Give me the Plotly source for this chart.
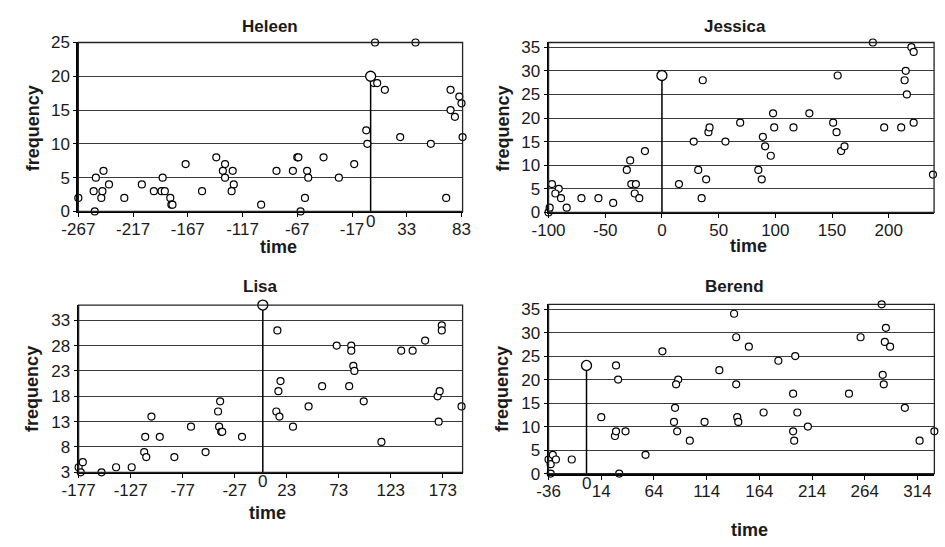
import plotly.graph_objects as go

# ---------------- data ----------------
heleen_time = [-267, -253, -251, -252, -246, -245, -244, -239, -225, -209, -198, -190, -191, -188,
               -183, -182, -181, -169, -154, -141, -133, -135, -133, -126, -125, -127,
               -100, -86, -71, -67, -66, -58, -57, -60, -64, -43, -29, -15, -4, -3,
               4, 3, 6, 13, 27, 41, 55, 69, 73, 73, 77, 81, 83, 84]
heleen_freq = [2, 3, 5, 0, 2, 3, 6, 4, 2, 4, 3, 5, 3, 3,
               2, 1, 1, 7, 3, 8, 7, 6, 5, 6, 4, 3,
               1, 6, 6, 8, 8, 6, 5, 2, 0, 8, 5, 7, 12, 10,
               25, 19, 19, 18, 11, 25, 10, 2, 18, 15, 14, 17, 16, 11]
heleen_onset = [0, 20]
heleen_xticks = [-267, -217, -167, -117, -67, -17, 33, 83]
heleen_yticks = [0, 5, 10, 15, 20, 25]

jessica_time = [-100, -99, -97, -91, -94, -89, -84, -71, -56, -43, -31, -28, -27, -23, -24, -20, -15,
                15, 28, 32, 36, 35, 39, 41, 42, 56, 69, 85, 88, 89, 91, 96, 98, 99, 116, 130,
                151, 154, 155, 158, 161, 186, 196, 211, 215, 214, 216, 220, 222, 222, 239]
jessica_freq = [0, 1, 6, 5, 4, 3, 1, 3, 3, 2, 9, 11, 6, 6, 4, 3, 13,
                6, 15, 9, 28, 3, 7, 17, 18, 15, 19, 9, 7, 16, 14, 12, 21, 18, 18, 21,
                19, 17, 29, 13, 14, 36, 18, 18, 30, 28, 25, 35, 34, 19, 8]
jessica_onset = [0, 29]
jessica_xticks = [-100, -50, 0, 50, 100, 150, 200]
jessica_yticks = [0, 5, 10, 15, 20, 25, 30, 35]

lisa_time = [-177, -175, -173, -155, -141, -126, -114, -112, -113, -107, -99, -85, -69, -55,
             -43, -41, -42, -40, -39, -20,
             14, 13, 16, 17, 15, 29, 44, 57, 71, 85, 85, 87, 88, 83, 97, 114, 133, 144, 156,
             172, 172, 168, 170, 169, 191]
lisa_freq = [4, 3, 5, 3, 4, 4, 7, 6, 10, 14, 10, 6, 12, 7,
             15, 17, 12, 11, 11, 10,
             31, 15, 14, 21, 19, 12, 16, 20, 28, 28, 27, 24, 23, 20, 17, 9, 27, 27, 29,
             32, 31, 18, 19, 13, 16]
lisa_onset = [0, 36]
lisa_xticks = [-177, -127, -77, -27, 23, 73, 123, 173]
lisa_yticks = [3, 8, 13, 18, 23, 28, 33]

berend_time = [-36, -32, -34, -34, -29, -14, 14, 28, 30, 27, 28, 37, 31, 56, 72, 87, 85, 84, 83,
               86, 98, 112, 140, 142, 142, 154, 126, 143, 144, 168, 182, 198, 196, 200, 196,
               197, 210, 249, 260, 280, 284, 283, 288, 281, 282, 302, 316, 330]
berend_freq = [3, 4, 2, 0, 3, 3, 12, 23, 20, 8, 9, 9, 0, 4, 26, 20, 19, 14, 11,
               9, 7, 11, 34, 29, 19, 27, 22, 12, 11, 13, 24, 25, 17, 13, 9,
               7, 10, 17, 29, 36, 31, 28, 27, 21, 19, 14, 7, 9]
berend_onset = [0, 23]
berend_xticks = [-36, 14, 64, 114, 164, 214, 264, 314]
berend_yticks = [0, 5, 10, 15, 20, 25, 30, 35]

W, H = 945, 547
FONT = "Arial, Liberation Sans, sans-serif"
TXT = "#1a1a1a"

panels = [
    dict(name="Heleen", t=heleen_time, f=heleen_freq, onset=heleen_onset, xt=heleen_xticks,
         yt=heleen_yticks, xr=[-267, 84], yr=[0, 25], px=(63, 457.7), py=(34.7, 209.7),
         zero_label=True, zlab_y=220, title=(260, 18), xlab=(269, 247), ylab=(16, 124)),
    dict(name="Jessica", t=jessica_time, f=jessica_freq, onset=jessica_onset, xt=jessica_xticks,
         yt=jessica_yticks, xr=[-100, 240], yr=[0, 36], px=(546, 942), py=(34.7, 210.7),
         zero_label=False, zlab_y=None, title=(737.5, 18), xlab=(751, 246), ylab=(499, 124)),
    dict(name="Lisa", t=lisa_time, f=lisa_freq, onset=lisa_onset, xt=lisa_xticks,
         yt=lisa_yticks, xr=[-177, 192], yr=[3, 36], px=(63.3, 457.7), py=(306.7, 480),
         zero_label=True, zlab_y=490, title=(250, 288), xlab=(257, 522), ylab=(16, 394)),
    dict(name="Berend", t=berend_time, f=berend_freq, onset=berend_onset, xt=berend_xticks,
         yt=berend_yticks, xr=[-36, 330], yr=[0, 36], px=(546, 942.3), py=(306, 481.3),
         zero_label=True, zlab_y=492, title=(737.5, 288), xlab=(752, 540), ylab=(499, 394)),
]

fig = go.Figure()
annotations = []
shapes = []
layout = {}

for i, p in enumerate(panels):
    k = "" if i == 0 else str(i + 1)
    xa, ya = "x" + k, "y" + k
    # vertical line at onset (time 0)
    fig.add_trace(go.Scatter(x=[p["onset"][0], p["onset"][0]], y=[p["yr"][0], p["onset"][1]],
                             mode="lines", line=dict(color="black", width=1.5),
                             xaxis=xa, yaxis=ya, showlegend=False, hoverinfo="skip",
                             cliponaxis=False))
    fig.add_trace(go.Scatter(x=p["t"], y=p["f"], mode="markers",
                             marker=dict(size=7, color="white", line=dict(color="black", width=1.2)),
                             xaxis=xa, yaxis=ya, showlegend=False, cliponaxis=False))
    fig.add_trace(go.Scatter(x=[p["onset"][0]], y=[p["onset"][1]], mode="markers",
                             marker=dict(size=10, color="white", line=dict(color="black", width=1.3)),
                             xaxis=xa, yaxis=ya, showlegend=False, cliponaxis=False))

    xd = [p["px"][0] / W, p["px"][1] / W]
    yd = [1 - p["py"][1] / H, 1 - p["py"][0] / H]
    layout["xaxis" + k] = dict(domain=xd, range=p["xr"], anchor=ya, tickmode="array",
                               tickvals=p["xt"], ticktext=[str(v) for v in p["xt"]],
                               showgrid=False, zeroline=False, showline=True, linecolor="black",
                               linewidth=2, ticks="outside", ticklen=4, tickcolor="black",
                               tickwidth=1, ticklabelstandoff=-3,
                               tickfont=dict(family=FONT, size=17, color=TXT))
    layout["yaxis" + k] = dict(domain=yd, range=p["yr"], anchor=xa, tickmode="array",
                               tickvals=p["yt"], ticktext=[str(v) for v in p["yt"]],
                               showgrid=True, gridcolor="#3a3a3a", gridwidth=1.4,
                               zeroline=False, showline=True, linecolor="black", linewidth=2,
                               ticks="outside", ticklen=3, tickcolor="black", tickwidth=1,
                               tickfont=dict(family=FONT, size=17, color=TXT))
    shapes.append(dict(type="rect", xref=xa + " domain", yref=ya + " domain",
                       x0=0, x1=1, y0=0, y1=1, line=dict(color="#222", width=1.3), layer="above"))
    annotations.append(dict(text="<b>%s</b>" % p["name"], x=p["title"][0] / W, y=1 - p["title"][1] / H,
                            xref="paper", yref="paper", showarrow=False, xanchor="center",
                            yanchor="middle", font=dict(family=FONT, size=17, color=TXT)))
    annotations.append(dict(text="<b>time</b>", x=p["xlab"][0] / W, y=1 - p["xlab"][1] / H,
                            xref="paper", yref="paper", showarrow=False, xanchor="center",
                            yanchor="middle", font=dict(family=FONT, size=18, color=TXT)))
    annotations.append(dict(text="<b>frequency</b>", x=p["ylab"][0] / W, y=1 - p["ylab"][1] / H,
                            xref="paper", yref="paper", showarrow=False, xanchor="center",
                            yanchor="middle", textangle=-90, font=dict(family=FONT, size=18, color=TXT)))
    if p["zero_label"]:
        annotations.append(dict(text="0", x=0, xref=xa, y=1 - p["zlab_y"] / H, yref="paper",
                                showarrow=False, xanchor="center", yanchor="middle",
                                font=dict(family=FONT, size=17, color=TXT)))

fig.update_layout(width=W, height=H, margin=dict(l=0, r=0, t=0, b=0), autosize=False,
                  paper_bgcolor="white", plot_bgcolor="white", showlegend=False,
                  annotations=annotations, shapes=shapes, **layout)

fig.write_html("out.html")
